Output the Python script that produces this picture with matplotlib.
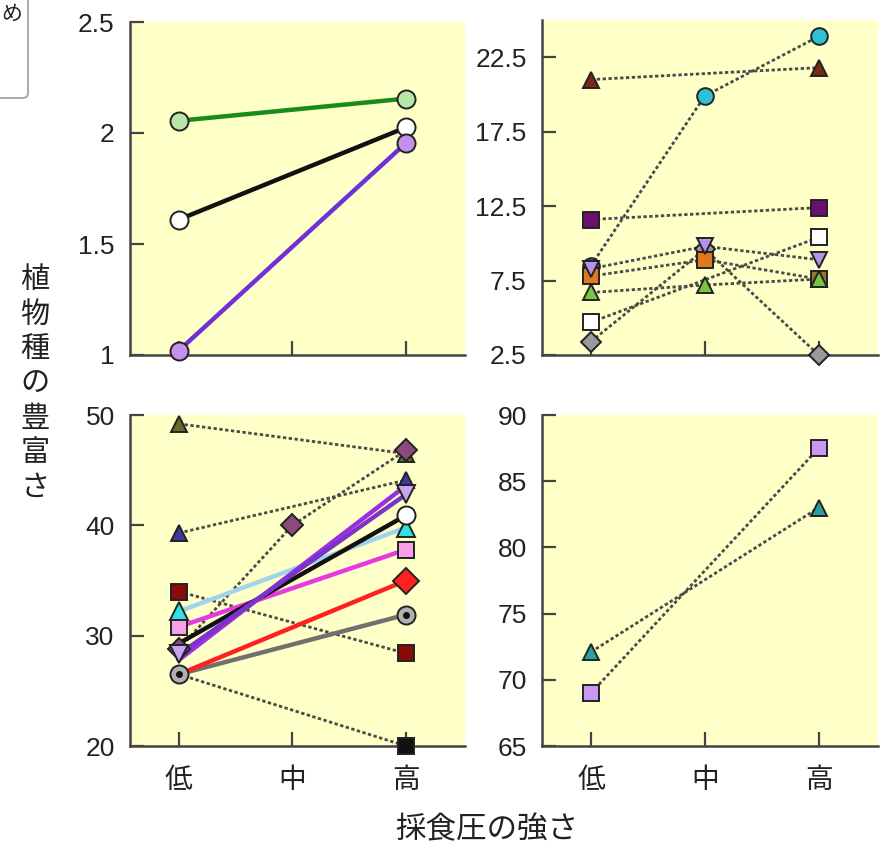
import numpy as np
import matplotlib
matplotlib.use("Agg")
import matplotlib.pyplot as plt
from matplotlib.patches import FancyBboxPatch
from matplotlib.ticker import FuncFormatter

plt.rcParams['font.family'] = ['Liberation Sans', 'Noto Sans CJK JP', 'DejaVu Sans']

levels = ['低', '中', '高']
y_label = '植物種の豊富さ'
x_label = '採食圧の強さ'

# top-left panel: solid lines, 低 and 高 only
tl_green = [2.055, 2.155]
tl_black = [1.61, 2.025]
tl_purple = [1.02, 1.955]

# top-right panel: dotted lines
tr_brown = [21.0, 21.8]
tr_cyan = [8.5, 19.9, 23.9]
tr_purple_sq = [11.6, 12.4]
tr_white_sq = [4.7, 10.4]
tr_gray_dia = [3.4, 9.6, 2.5]
tr_orange_sq = [7.8, 8.9, 7.6]
tr_green_tri = [6.7, 7.2, 7.6]
tr_lav_tri = [8.3, 9.8, 8.9]

# bottom-left panel, solid lines (低, 高)
bl_black = [29.3, 40.9]
bl_violet = [27.8, 43.6]
bl_purple = [28.3, 42.8]
bl_sky = [32.2, 39.8]
bl_magenta = [30.8, 37.8]
bl_red = [26.5, 35.0]
bl_gray = [26.5, 31.9]
# bottom-left panel, dotted lines
bl_olive_tri = [49.2, 46.5]
bl_navy_tri = [39.3, 44.1]
bl_mauve_dia = [28.8, 40.0, 46.8]
bl_darkred_sq = [34.0, 28.4]
bl_black_sq = [26.5, 20.0]

# bottom-right panel
br_lav_sq = [69.0, 87.5]
br_teal_tri = [72.1, 83.0]

BG = '#ffffc8'
SPINE = '#444444'
DOT = '#4a4a4a'
DOTS = (0, (1.2, 0.9))


def series(ax, xs, ys, lc, ls, lw, marker, mfc, ms, z=3):
    ax.plot(xs, ys, color=lc, ls=ls, lw=lw, zorder=z, clip_on=False)
    if not isinstance(mfc, list):
        mfc = [mfc] * len(xs)
    for x, y, c in zip(xs, ys, mfc):
        if c is None:
            continue
        ax.plot(x, y, marker=marker, ms=ms, mfc=c, mec='#222222', mew=1.4,
                ls='none', zorder=z + 1, clip_on=False)


def style(ax, ylim, yticks, show_x):
    ax.set_facecolor(BG)
    ax.set_xlim(-0.43, 2.52)
    ax.set_ylim(*ylim)
    ax.set_yticks(yticks)
    ax.yaxis.set_major_formatter(FuncFormatter(lambda v, p: '%g' % v))
    ax.set_xticks([0, 1, 2])
    for s in ['top', 'right']:
        ax.spines[s].set_visible(False)
    for s in ['left', 'bottom']:
        ax.spines[s].set_color(SPINE)
        ax.spines[s].set_linewidth(1.8)
    ax.tick_params(axis='both', direction='in', length=10, width=1.6, color=SPINE)
    ax.tick_params(axis='y', labelsize=19, pad=11, labelcolor='#222222')
    if show_x:
        ax.set_xticklabels(levels, fontsize=20, color='#222222')
        ax.tick_params(axis='x', pad=16)
    else:
        ax.set_xticklabels([])


fig = plt.figure(figsize=(8.83, 8.48), dpi=100)
W, H = 883, 848


def axes_px(x0, y0, x1, y1):
    return fig.add_axes([x0 / W, 1 - y1 / H, (x1 - x0) / W, (y1 - y0) / H])


ax_tl = axes_px(130, 22, 465, 355)
ax_tr = axes_px(542, 20, 878, 355)
ax_bl = axes_px(130, 415, 465, 746)
ax_br = axes_px(542, 415, 878, 746)

# top-left
style(ax_tl, (1, 2.5), [1, 1.5, 2, 2.5], False)
series(ax_tl, [0, 2], tl_green, '#1a8a1a', '-', 3.2, 'o', '#b8e6a6', 13)
series(ax_tl, [0, 2], tl_black, '#111111', '-', 3.2, 'o', 'white', 13)
series(ax_tl, [0, 2], tl_purple, '#7030d8', '-', 3.2, 'o', '#c490ec', 13)

# top-right
style(ax_tr, (2.5, 25), [2.5, 7.5, 12.5, 17.5, 22.5], False)
series(ax_tr, [0, 2], tr_brown, DOT, DOTS, 2, '^', '#7a2818', 11)
series(ax_tr, [0, 1, 2], tr_cyan, DOT, DOTS, 2, 'o', ['#48489a', '#30c0d4', '#30c0d4'], 12)
series(ax_tr, [0, 2], tr_purple_sq, DOT, DOTS, 2, 's', '#6a106e', 11)
series(ax_tr, [0, 2], tr_white_sq, DOT, DOTS, 2, 's', 'white', 11)
series(ax_tr, [0, 1, 2], tr_gray_dia, DOT, DOTS, 2, 'D', '#9a9a9a', 10)
series(ax_tr, [0, 1, 2], tr_orange_sq, DOT, DOTS, 2, 's', ['#e07820', '#e07820', '#8a7a2a'], 11)
series(ax_tr, [0, 1, 2], tr_green_tri, DOT, DOTS, 2, '^', '#7cc444', 11)
series(ax_tr, [0, 1, 2], tr_lav_tri, DOT, DOTS, 2, 'v', '#b494ea', 11)

# bottom-left
style(ax_bl, (20, 50), [20, 30, 40, 50], True)
series(ax_bl, [0, 2], bl_olive_tri, DOT, DOTS, 2, '^', '#6a6a28', 12)
series(ax_bl, [0, 2], bl_navy_tri, DOT, DOTS, 2, '^', '#3c3c98', 12)
series(ax_bl, [0, 2], bl_darkred_sq, DOT, DOTS, 2, 's', '#8a0a0a', 11)
series(ax_bl, [0, 2], bl_black_sq, DOT, DOTS, 2, 's', [None, '#111111'], 11)
series(ax_bl, [0, 1, 2], bl_mauve_dia, DOT, DOTS, 2, 'D', '#8c4a7c', 11)
series(ax_bl, [0, 2], bl_gray, '#707070', '-', 3.2, 'o', '#b0b0b0', 13)
ax_bl.plot([0, 2], bl_gray, ls='none', marker='o', ms=4, color='#111111', zorder=6, clip_on=False)
series(ax_bl, [0, 2], bl_red, '#ff2020', '-', 3.2, 'D', [None, '#ff2020'], 13)
series(ax_bl, [0, 2], bl_magenta, '#e838e0', '-', 3.2, 's', '#f6a0ea', 12)
series(ax_bl, [0, 2], bl_sky, '#a0d4ea', '-', 3.2, '^', '#30e0e4', 13)
series(ax_bl, [0, 2], bl_black, '#111111', '-', 3.2, 'o', [None, 'white'], 13)
series(ax_bl, [0, 2], bl_violet, '#9a2ee0', '-', 3.2, 'v', [None, None], 13)
series(ax_bl, [0, 2], bl_purple, '#7a34c8', '-', 3.2, 'v', '#c8a4f0', 13)

# bottom-right
style(ax_br, (65, 90), [65, 70, 75, 80, 85, 90], True)
series(ax_br, [0, 2], br_lav_sq, DOT, DOTS, 2, 's', '#c898f4', 11)
series(ax_br, [0, 2], br_teal_tri, DOT, DOTS, 2, '^', '#2aa2a2', 12)

# axis titles
fig.text(35 / W, 1 - 384 / H, '\n'.join(y_label), ha='center', va='center',
         fontsize=21, linespacing=1.3, color='#222222')
fig.text(487 / W, 1 - 830 / H, x_label, ha='center', va='center',
         fontsize=22, color='#222222')

# cut-off legend box at the top-left corner
box = FancyBboxPatch((-40 / W, 1 - 98 / H), 68 / W, 110 / H,
                     boxstyle='round,pad=0,rounding_size=0.006',
                     transform=fig.transFigure, facecolor='white',
                     edgecolor='#999999', lw=1.2, zorder=0)
fig.patches.append(box)
fig.text(1 / W, 1 - 14 / H, 'め', ha='left', va='center', fontsize=15, color='#222222')

fig.savefig('out.png', dpi=100)
